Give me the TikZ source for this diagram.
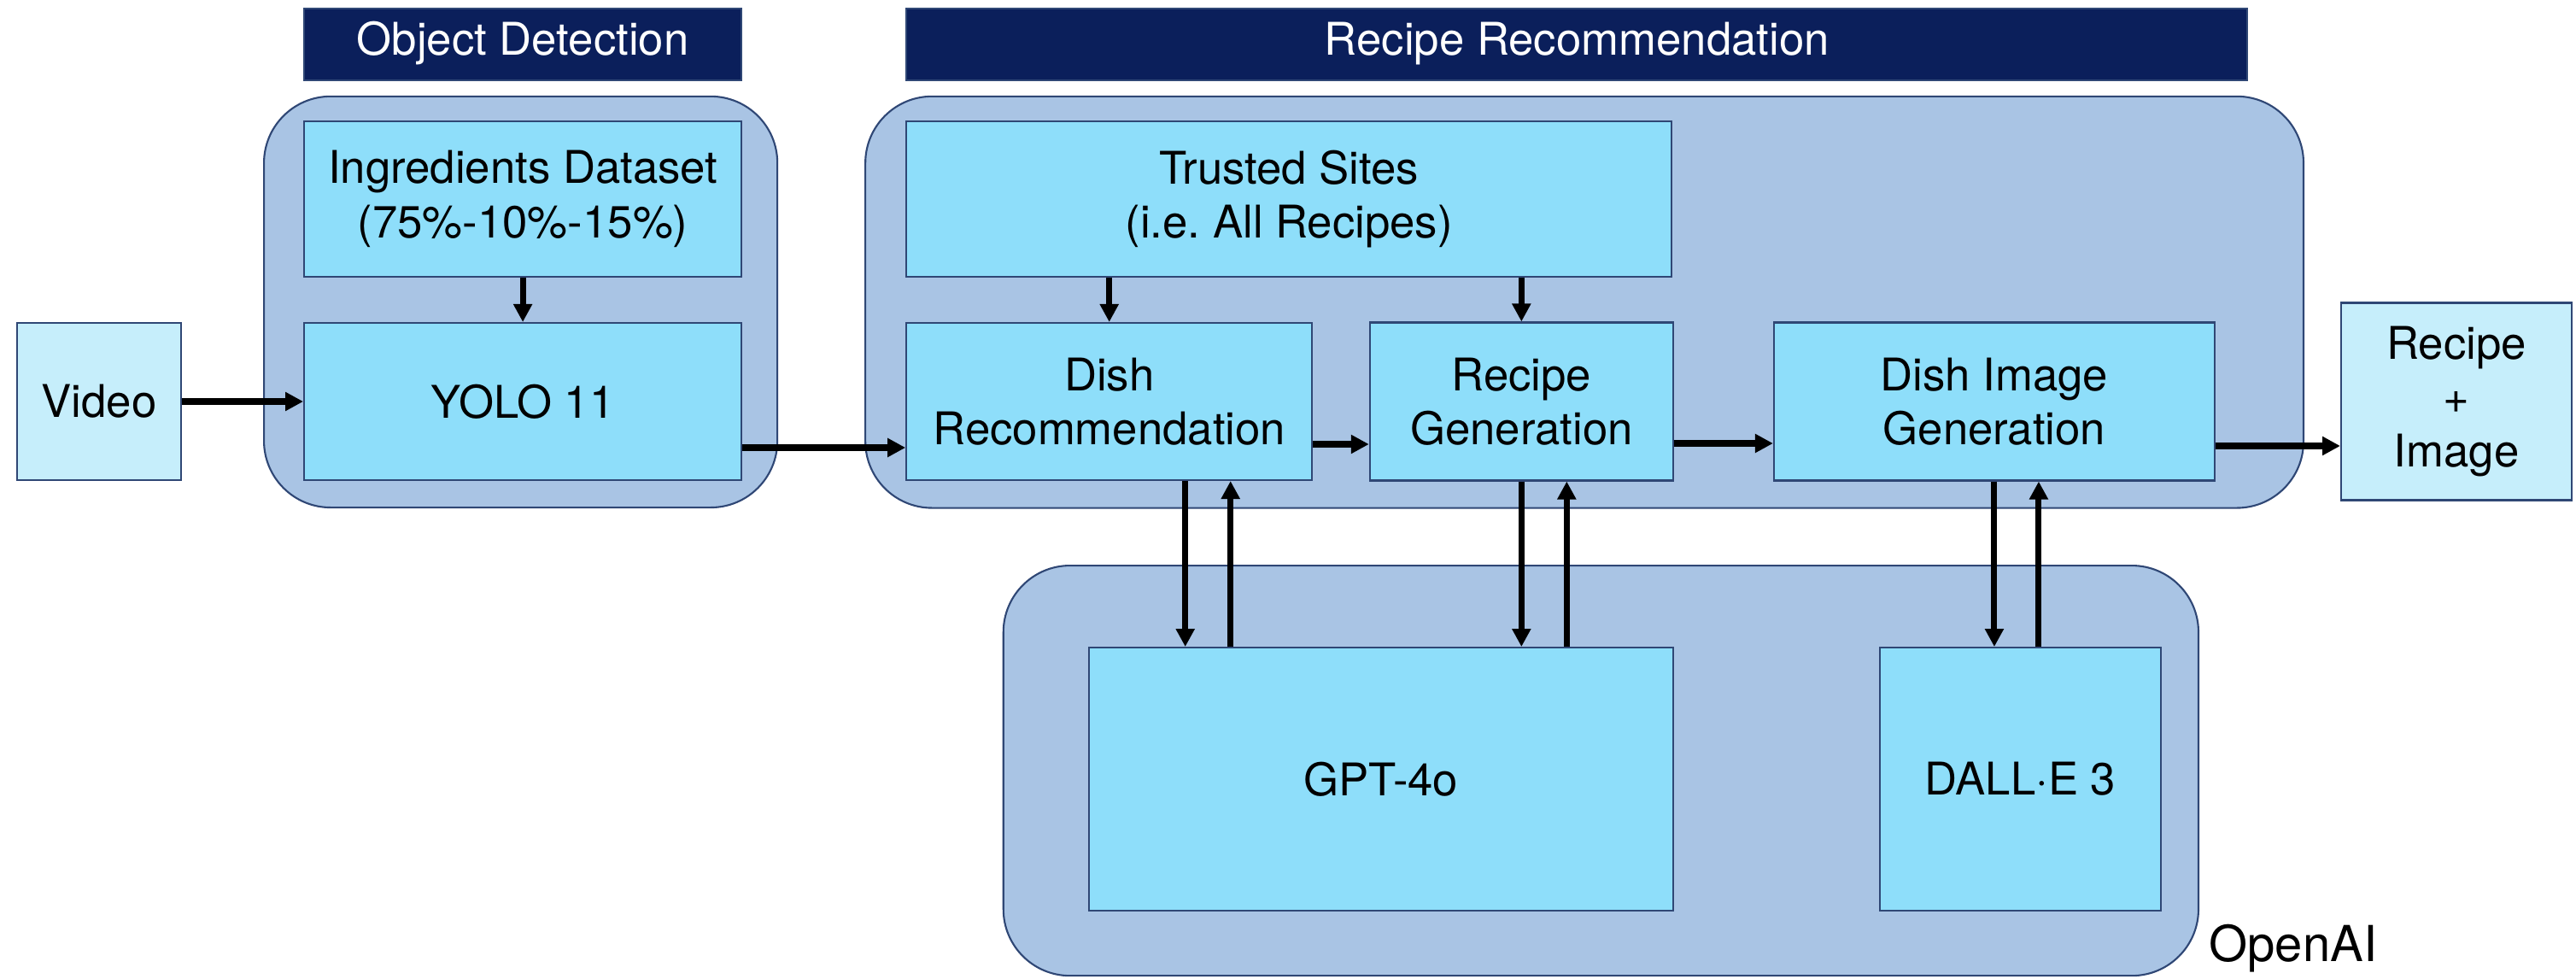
\documentclass[tikz,border=0pt]{standalone}
\usepackage{fontspec}
\setmainfont{TeX Gyre Heros}
\usepackage{xcolor}
\usetikzlibrary{positioning,arrows.meta,fit,backgrounds}
\definecolor{groupblue}{HTML}{A9C4E4}
\definecolor{boxblue}{HTML}{8EDEFA}
\definecolor{ioblue}{HTML}{C6EEFB}
\definecolor{navy}{HTML}{0B1F5B}
\definecolor{edgeblue}{HTML}{2F4775}

\begin{document}
\begin{tikzpicture}[>={Triangle[length=0.21cm,width=0.21cm]},line width=2pt,
		font=\fontsize{15}{18}\selectfont,
		main node/.style={draw=edgeblue,line width=0.6pt,fill=boxblue,align=center,inner sep=0pt},
		io node/.style={main node,fill=ioblue},
		group node/.style={draw=edgeblue,line width=0.6pt,fill=groupblue,rounded corners=0.78cm,inner sep=0pt},
		title node/.style={draw=edgeblue,line width=0.6pt,fill=navy,text=white,inner sep=0pt,
			minimum height=0.84cm,text height=0.72em,text depth=0pt}]
	\useasboundingbox (0,0) rectangle (30.16,-11.46);
	% Nodes
	\node[io node,minimum width=1.92cm,minimum height=1.84cm] (Video) at (1.16,-4.70) {Video};
	\node[main node,minimum width=5.12cm,minimum height=1.84cm] (YOLO) [right=1.42cm of Video] {YOLO 11};
	\node[main node,minimum width=5.12cm,minimum height=1.82cm] (Data) [above=0.52cm of YOLO] {Ingredients Dataset\\(75\%-10\%-15\%)};
	\node[title node,minimum width=5.12cm] (ODtitle) [above=0.46cm of Data] {Object Detection};
	\node[main node,minimum width=4.75cm,minimum height=1.84cm] (Dish) [right=1.91cm of YOLO] {Dish\\Recommendation};
	\node[main node,minimum width=3.55cm,minimum height=1.85cm] (Recipe) [right=0.655cm of Dish] {Recipe\\Generation};
	\node[main node,minimum width=5.16cm,minimum height=1.85cm] (Image) [right=1.16cm of Recipe] {Dish Image\\Generation};
	\node[io node,minimum width=2.70cm,minimum height=2.31cm] (Out) [right=1.46cm of Image] {Recipe\\+\\Image};
	\node[main node,minimum width=8.96cm,minimum height=1.82cm] (Sites) [above=0.52cm of Dish.north west,anchor=south west] {Trusted Sites\\(i.e.\ All Recipes)};
	\node[title node,minimum width=15.70cm] (RRtitle) [above=0.46cm of Sites.north west,anchor=south west] {Recipe Recommendation};
	\node[main node,minimum width=6.84cm,minimum height=3.08cm] (GPT) [below=1.935cm of Recipe.south east,anchor=north east] {GPT-4o};
	\node[main node,minimum width=3.29cm,minimum height=3.08cm] (DALLE) [right=2.40cm of GPT] {DALL·E 3};

	% Groups
	\begin{scope}[on background layer]
		\node[group node,fit={([xshift=-0.46cm,yshift=0.28cm]Data.north west) ([xshift=0.41cm,yshift=-0.31cm]YOLO.south east)}] (OD) {};
		\node[group node,fit={([xshift=-0.47cm,yshift=0.28cm]Sites.north west) ([xshift=1.03cm,yshift=-0.31cm]Image.south east)}] (RR) {};
		\node[group node,fit={([xshift=-0.99cm,yshift=0.95cm]GPT.north west) ([xshift=0.43cm,yshift=-0.75cm]DALLE.south east)}] (OAI) {};
	\end{scope}
	\node[anchor=base west,inner sep=0pt,font=\fontsize{16.5}{20}\selectfont] (OAIlabel) at ([xshift=0.08cm,yshift=0.18cm]OAI.south east) {OpenAI};

	% Edges
	\draw[->] (Video) -- (YOLO);
	\draw[->] (Data) -- (YOLO);
	\draw[->] ([yshift=-0.54cm]YOLO.east) -- ([yshift=-0.54cm]Dish.west);
	\draw[->] ([yshift=-0.50cm]Dish.east) -- ([yshift=-0.50cm]Recipe.west);
	\draw[->] ([yshift=-0.49cm]Recipe.east) -- ([yshift=-0.49cm]Image.west);
	\draw[->] ([yshift=-0.52cm]Image.east) -- ([yshift=-0.52cm]Out.west);
	\draw[->] (Sites.south -| Dish) -- (Dish);
	\draw[->] (Sites.south -| Recipe) -- (Recipe);

	\coordinate (D1) at ([xshift=0.89cm]Dish.south);
	\coordinate (D2) at ([xshift=1.42cm]Dish.south);
	\coordinate (R1) at (Recipe.south);
	\coordinate (R2) at ([xshift=0.53cm]Recipe.south);
	\coordinate (I1) at (Image.south);
	\coordinate (I2) at ([xshift=0.52cm]Image.south);
	\draw[->] (D1) -- (D1 |- GPT.north);
	\draw[->] (D2 |- GPT.north) -- (D2);
	\draw[->] (R1) -- (R1 |- GPT.north);
	\draw[->] (R2 |- GPT.north) -- (R2);
	\draw[->] (I1) -- (I1 |- DALLE.north);
	\draw[->] (I2 |- DALLE.north) -- (I2);
\end{tikzpicture}
\end{document}
